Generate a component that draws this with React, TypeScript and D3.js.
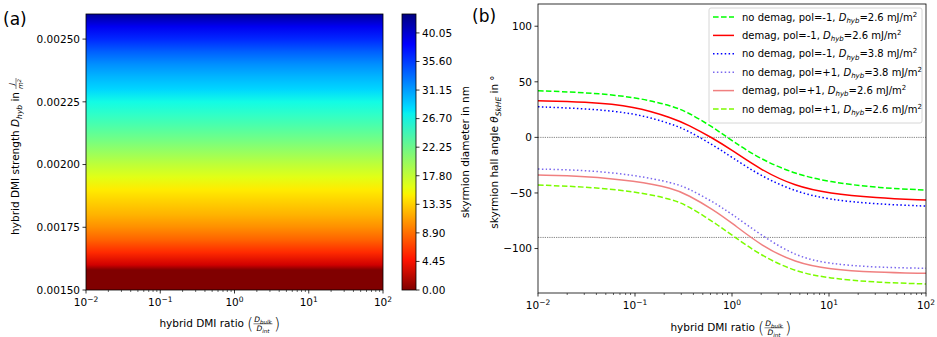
import * as d3 from 'd3';
import React from 'react';

const FONT = 'DejaVu Sans, sans-serif';
const W = 937, H = 337;

// ---- panel (a): skyrmion diameter vs hybrid DMI strength ----
const dhyb = [0.0015, 0.00155, 0.00158, 0.0016, 0.00165, 0.0017, 0.00175, 0.0018, 0.00185, 0.0019,
  0.00195, 0.002, 0.00205, 0.0021, 0.00215, 0.0022, 0.00225, 0.0023, 0.00235, 0.0024, 0.00245,
  0.0025, 0.00255, 0.0026];
const diameter = [0, 0, 0, 3.0, 5.8, 8.4, 10.4, 12.0, 13.3, 14.6,
  16.2, 18.0, 20.0, 22.0, 23.8, 25.5, 27.0, 28.6, 30.0, 31.6, 33.6,
  36.0, 38.8, 42.0];
const dhybTicks = [0.0015, 0.00175, 0.002, 0.00225, 0.0025];
const cbarTicks = [0, 4.45, 8.9, 13.35, 17.8, 22.25, 26.7, 31.15, 35.6, 40.05];
const ratioTicks = [0.01, 0.1, 1, 10, 100];
const ratioExp = ['\u22122', '\u22121', '0', '1', '2'];

// ---- panel (b): skyrmion hall angle vs DMI ratio ----
const ratio = [0.01, 0.03, 0.1, 0.25, 0.35, 0.63, 1, 2, 4.5, 10, 30, 100];
const noDemagM1_26 = [41.9, 40.5, 36.5, 28.0, 22.5, 9.5, -3.0, -20.0, -33.0, -40.0, -45.3, -47.4];
const demagM1_26 = [32.9, 32.0, 28.2, 17.0, 11.5, -0.5, -11.5, -29.5, -44.0, -50.4, -54.3, -56.4];
const noDemagM1_38 = [27.5, 26.0, 22.0, 11.5, 6.0, -6.5, -18.0, -35.0, -48.9, -56.0, -60.0, -61.8];
const noDemagP1_38 = [-28.5, -29.4, -33.8, -41.0, -45.7, -57.7, -69.0, -88.0, -107.0, -113.9, -116.9, -117.8];
const demagP1_26 = [-33.9, -34.8, -39.0, -46.0, -51.8, -64.5, -77.0, -97.5, -112.8, -118.7, -121.4, -122.3];
const noDemagP1_26 = [-42.9, -44.4, -48.5, -56.0, -61.7, -75.5, -88.0, -106.5, -120.9, -126.8, -130.4, -131.9];
const angleTicks = [-100, -50, 0, 50, 100];
const refAngles = [0, -90];

const series = [
  { pre: 'no demag, pol=-1, ', val: '2.6', y: noDemagM1_26, color: '#00ff00', dash: '5.6 2.4' },
  { pre: 'demag, pol=-1, ', val: '2.6', y: demagM1_26, color: '#ff0000', dash: null },
  { pre: 'no demag, pol=-1, ', val: '3.8', y: noDemagM1_38, color: '#0000ff', dash: '1.5 2.4' },
  { pre: 'no demag, pol=+1, ', val: '3.8', y: noDemagP1_38, color: '#7b68ee', dash: '1.5 2.4' },
  { pre: 'demag, pol=+1, ', val: '2.6', y: demagP1_26, color: '#f08080', dash: null },
  { pre: 'no demag, pol=+1, ', val: '2.6', y: noDemagP1_26, color: '#7cfc00', dash: '5.6 2.4' },
];

// jet colormap (reversed), matplotlib segment data
const rS = d3.scaleLinear().domain([0, 0.35, 0.66, 0.89, 1]).range([0, 0, 1, 1, 0.5]).clamp(true);
const gS = d3.scaleLinear().domain([0, 0.125, 0.375, 0.64, 0.91, 1]).range([0, 0, 1, 1, 0, 0]).clamp(true);
const bS = d3.scaleLinear().domain([0, 0.11, 0.34, 0.65, 1]).range([0.5, 1, 1, 0, 0]).clamp(true);
const jetBreaks = [0, 0.11, 0.125, 0.34, 0.35, 0.375, 0.64, 0.65, 0.66, 0.89, 0.91, 1];
const VMAX = 43;
const jetR = (v: number) => {
  const t = 1 - v / VMAX;
  return d3.rgb(rS(t) * 255, gS(t) * 255, bS(t) * 255).formatHex();
};

const TICK = 3.5, MINOR = 2;

const XLabel = ({ end, y }: { end: number; y: number }) => (
  <g fontFamily={FONT}>
    <text x={end} y={y + 4} fontSize={10.5} textAnchor="end">hybrid DMI ratio</text>
    <text x={end + 3} y={y + 5.5} fontSize={16} fontWeight={200}>(</text>
    <text x={end + 19} y={y - 1} fontSize={7.5} textAnchor="middle">
      <tspan fontStyle="italic">D</tspan><tspan fontStyle="italic" fontSize={5.5} dy={1.5}>bulk</tspan>
    </text>
    <line x1={end + 9.5} x2={end + 28.5} y1={y + 0.8} y2={y + 0.8} stroke="#000" strokeWidth={0.5} />
    <text x={end + 19} y={y + 8} fontSize={7.5} textAnchor="middle">
      <tspan fontStyle="italic">D</tspan><tspan fontStyle="italic" fontSize={5.5} dy={1.5}>int</tspan>
    </text>
    <text x={end + 30} y={y + 5.5} fontSize={16} fontWeight={200}>)</text>
  </g>
);

const LogXAxis = ({ x, y0 }: { x: d3.ScaleLogarithmic<number, number>; y0: number }) => (
  <g fontFamily={FONT}>
    {x.ticks().map((t, i) => {
      const major = Math.abs(Math.log10(t) - Math.round(Math.log10(t))) < 1e-9;
      return (
        <line key={i} x1={x(t)} x2={x(t)} y1={y0} y2={y0 + (major ? TICK : MINOR)}
          stroke="#000" strokeWidth={major ? 0.8 : 0.6} />
      );
    })}
    {ratioTicks.map((t, i) => (
      <text key={'l' + i} x={x(t)} y={y0 + 16} fontSize={10.5} textAnchor="middle">
        10<tspan fontSize={7.5} dy={-4.5}>{ratioExp[i]}</tspan>
      </text>
    ))}
  </g>
);

const App = () => {
  // ---------- panel (a) ----------
  const ax = d3.scaleLog().domain([0.01, 100]).range([86, 383]);
  const ay = d3.scaleLinear().domain([0.0015, 0.0026]).range([290, 14]);
  const off = d3.scaleLinear().domain(ay.domain()).range([0, 1]);
  const cy = d3.scaleLinear().domain([0, VMAX]).range([290, 14]);
  const [ax0, ax1] = ax.range();
  const [ayB, ayT] = ay.range();

  // ---------- panel (b) ----------
  const bx = d3.scaleLog().domain([0.01, 100]).range([538, 926]);
  const by = d3.scaleLinear().domain([-140, 120]).range([293, 4]);
  const [bx0, bx1] = bx.range();
  const [byB, byT] = by.range();
  const line = d3.line<number>()
    .x((_, i) => bx(ratio[i]))
    .y((d) => by(d))
    .curve(d3.curveBasis);

  const legX = 709, legY = 8, legW = 213, legH = 115, rowH = 18.4;

  return (
    <svg width={W} height={H} style={{ position: 'absolute', left: 0, top: 0, background: '#fff' }}>
      <defs>
        <linearGradient id="hm" x1="0" y1="1" x2="0" y2="0">
          {dhyb.map((d, i) => (
            <stop key={i} offset={off(d)} stopColor={jetR(diameter[i])} />
          ))}
        </linearGradient>
        <linearGradient id="cb" x1="0" y1="1" x2="0" y2="0">
          {jetBreaks.map((t, i) => (
            <stop key={i} offset={t} stopColor={jetR(t * VMAX)} />
          ))}
        </linearGradient>
        <clipPath id="clipB">
          <rect x={bx0} y={byT} width={bx1 - bx0} height={byB - byT} />
        </clipPath>
      </defs>

      {/* ===== panel (a) ===== */}
      <text x={3} y={25} fontFamily={FONT} fontSize={17}>(a)</text>
      <rect x={ax0} y={ayT} width={ax1 - ax0} height={ayB - ayT} fill="url(#hm)" />
      <rect x={ax0} y={ayT} width={ax1 - ax0} height={ayB - ayT} fill="none" stroke="#000" strokeWidth={0.8} />
      <LogXAxis x={ax} y0={ayB} />
      <g fontFamily={FONT}>
        {dhybTicks.map((t, i) => (
          <g key={i}>
            <line x1={ax0 - TICK} x2={ax0} y1={ay(t)} y2={ay(t)} stroke="#000" strokeWidth={0.8} />
            <text x={ax0 - 6} y={ay(t) + 3.8} fontSize={10.5} textAnchor="end">{t.toFixed(5)}</text>
          </g>
        ))}
      </g>
      <XLabel end={244} y={323} />
      <g transform="translate(19,152) rotate(-90)" fontFamily={FONT}>
        <text x={60} y={0} fontSize={10.5} textAnchor="end">
          hybrid DMI strength <tspan fontStyle="italic">D</tspan>
          <tspan fontStyle="italic" fontSize={7.5} dy={2.5}>hyb</tspan>
          <tspan dy={-2.5}> in</tspan>
        </text>
        <text x={68} y={-5} fontSize={7} textAnchor="middle" fontStyle="italic">J</text>
        <line x1={63} x2={74} y1={-3} y2={-3} stroke="#000" strokeWidth={0.5} />
        <text x={68} y={4} fontSize={7} textAnchor="middle" fontStyle="italic">
          m<tspan fontSize={5} dy={-2.5}>2</tspan>
        </text>
      </g>

      {/* colorbar */}
      <rect x={402} y={cy(VMAX)} width={14} height={cy(0) - cy(VMAX)} fill="url(#cb)" stroke="#000" strokeWidth={0.8} />
      <g fontFamily={FONT}>
        {cbarTicks.map((t, i) => (
          <g key={i}>
            <line x1={416} x2={416 + TICK} y1={cy(t)} y2={cy(t)} stroke="#000" strokeWidth={0.8} />
            <text x={422} y={cy(t) + 3.8} fontSize={10.5}>{t.toFixed(2)}</text>
          </g>
        ))}
      </g>
      <text transform="translate(469,152) rotate(-90)" fontFamily={FONT} fontSize={10.5} textAnchor="middle">
        skyrmion diameter in nm
      </text>

      {/* ===== panel (b) ===== */}
      <text x={472} y={22} fontFamily={FONT} fontSize={17}>(b)</text>
      <g clipPath="url(#clipB)">
        {refAngles.map((a, i) => (
          <line key={i} x1={bx0} x2={bx1} y1={by(a)} y2={by(a)} stroke="#000" strokeWidth={0.6} strokeDasharray="0.8 1" />
        ))}
        {series.map((s, i) => (
          <path key={i} d={line(s.y) || ''} fill="none" stroke={s.color} strokeWidth={1.5}
            strokeDasharray={s.dash || undefined} />
        ))}
      </g>
      <rect x={bx0} y={byT} width={bx1 - bx0} height={byB - byT} fill="none" stroke="#000" strokeWidth={0.8} />
      <LogXAxis x={bx} y0={byB} />
      <g fontFamily={FONT}>
        {angleTicks.map((t, i) => (
          <g key={i}>
            <line x1={bx0 - TICK} x2={bx0} y1={by(t)} y2={by(t)} stroke="#000" strokeWidth={0.8} />
            <text x={bx0 - 6} y={by(t) + 3.8} fontSize={10.5} textAnchor="end">
              {t < 0 ? '\u2212' + Math.abs(t) : String(t)}
            </text>
          </g>
        ))}
      </g>
      <XLabel end={755} y={327} />
      <text transform="translate(498,152) rotate(-90)" fontFamily={FONT} fontSize={10.5} textAnchor="middle">
        skyrmion hall angle <tspan fontStyle="italic">θ</tspan>
        <tspan fontStyle="italic" fontSize={7.5} dy={2.5}>SkHE</tspan>
        <tspan dy={-2.5}> in °</tspan>
      </text>

      {/* legend */}
      <rect x={legX} y={legY} width={legW} height={legH} rx={2} fill="#fff" fillOpacity={0.8}
        stroke="#cccccc" strokeWidth={0.8} />
      <g fontFamily={FONT}>
        {series.map((s, i) => {
          const yy = legY + 9 + i * rowH;
          return (
            <g key={i}>
              <line x1={legX + 4} x2={legX + 25} y1={yy} y2={yy} stroke={s.color} strokeWidth={1.5}
                strokeDasharray={s.dash || undefined} />
              <text x={legX + 33} y={yy + 3.5} fontSize={10}>
                {s.pre}<tspan fontStyle="italic">D</tspan>
                <tspan fontStyle="italic" fontSize={7} dy={2.2}>hyb</tspan>
                <tspan dy={-2.2}>={s.val} mJ/m</tspan>
                <tspan fontSize={7} dy={-4}>2</tspan>
              </text>
            </g>
          );
        })}
      </g>
    </svg>
  );
};

export default App;
